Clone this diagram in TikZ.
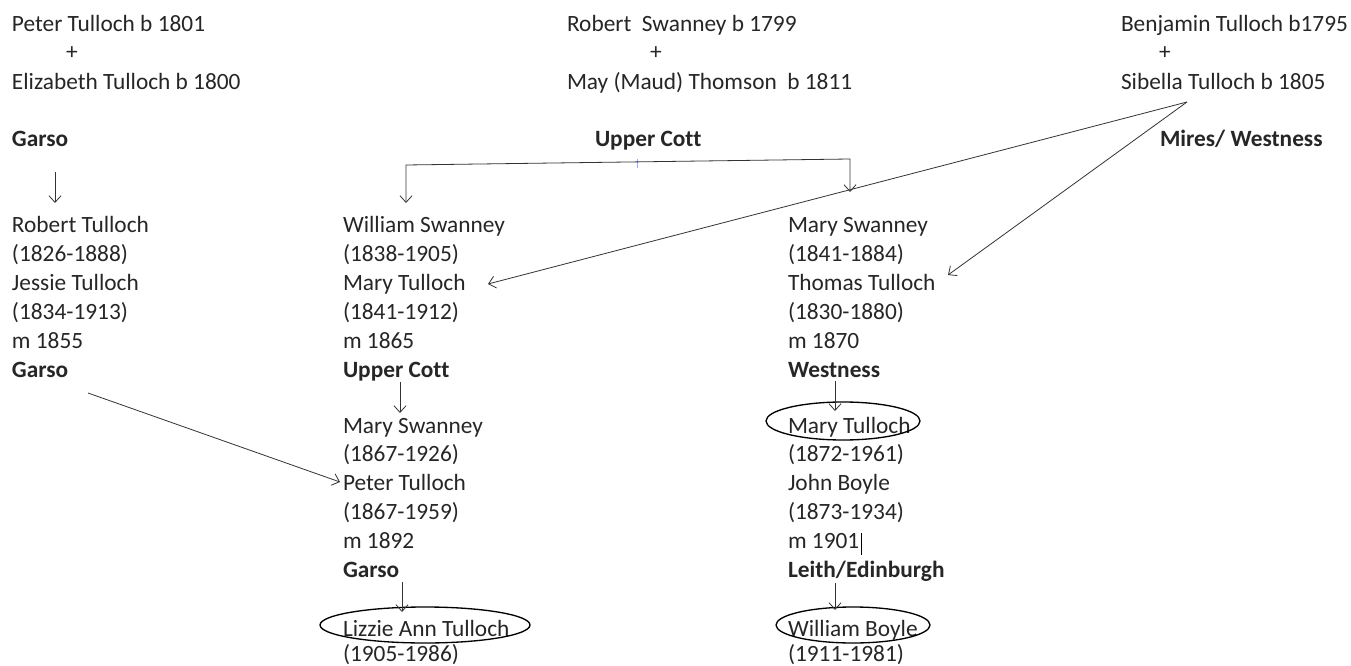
\documentclass[tikz,border=0pt]{standalone}
\usepackage{fontspec}
\setmainfont{Carlito}[Ligatures={NoCommon}]
\usetikzlibrary{arrows.meta}
\begin{document}
\begin{tikzpicture}[x=0.75pt,y=-0.75pt,
  tip/.tip={Straight Barb[length=5pt,width=9pt]},
  txt/.style={anchor=base west, inner sep=0pt, outer sep=0pt, text=black!85, font=\fontsize{17.5}{21}\selectfont},
  bold/.style={txt, font=\fontsize{17.5}{21}\selectfont\bfseries},
  conn/.style={draw=black!80, line width=0.6pt, -tip},
  ring/.style={draw=black, line width=1pt}]
\useasboundingbox (0,0) rectangle (1351,666);
\fill[white] (0,0) rectangle (1351,666);

% --- top row ---
\node[txt] (pt) at (12,32) {Peter Tulloch b 1801};
\node[txt] (plusA) at (66,60) {+};
\node[txt] (et) at (12,90) {Elizabeth Tulloch b 1800};
\node[bold] (garsoA) at (12,147) {Garso};

\node[txt] (rs) at (567,32) {Robert\ \ Swanney b 1799};
\node[txt] (plusB) at (650,60) {+};
\node[txt] (mt) at (567,90) {May (Maud) Thomson\ \ b 1811};
\node[bold] (ucA) at (595,147) {Upper Cott};

\node[txt] (bt) at (1121,32) {Benjamin Tulloch b1795};
\node[txt] (plusC) at (1159,60) {+};
\node[txt] (st) at (1121,90) {Sibella Tulloch b 1805};
\node[bold] (mw) at (1160,147) {Mires/ Westness};

% --- column 1 ---
\node[txt] (c1a) at (12,233) {Robert Tulloch};
\node[txt] (c1b) at (12,261.8) {(1826-1888)};
\node[txt] (c1c) at (12,290.6) {Jessie Tulloch};
\node[txt] (c1d) at (12,319.4) {(1834-1913)};
\node[txt] (c1e) at (12,348.2) {m 1855};
\node[bold] (c1f) at (12,377) {Garso};

% --- column 2 ---
\node[txt] (c2a) at (343,233) {William Swanney};
\node[txt] (c2b) at (343,261.8) {(1838-1905)};
\node[txt] (c2c) at (343,290.6) {Mary Tulloch};
\node[txt] (c2d) at (343,319.4) {(1841-1912)};
\node[txt] (c2e) at (343,348.2) {m 1865};
\node[bold] (c2f) at (343,377) {Upper Cott};

\node[txt] (c2g) at (343,433) {Mary Swanney};
\node[txt] (c2h) at (343,461.8) {(1867-1926)};
\node[txt] (c2i) at (343,490.6) {Peter Tulloch};
\node[txt] (c2j) at (343,519.4) {(1867-1959)};
\node[txt] (c2k) at (343,548.2) {m 1892};
\node[bold] (c2l) at (343,577) {Garso};
\node[txt] (c2m) at (343,636) {Lizzie Ann Tulloch};
\node[txt] (c2n) at (343,661) {(1905-1986)};

% --- column 3 ---
\node[txt] (c3a) at (788,233) {Mary Swanney};
\node[txt] (c3b) at (788,261.8) {(1841-1884)};
\node[txt] (c3c) at (788,290.6) {Thomas Tulloch};
\node[txt] (c3d) at (788,319.4) {(1830-1880)};
\node[txt] (c3e) at (788,348.2) {m 1870};
\node[bold] (c3f) at (788,377) {Westness};

\node[txt] (c3g) at (788,433) {Mary Tulloch};
\node[txt] (c3h) at (788,461.8) {(1872-1961)};
\node[txt] (c3i) at (788,490.6) {John Boyle};
\node[txt] (c3j) at (788,519.4) {(1873-1934)};
\node[txt] (c3k) at (788,548.2) {m 1901};
\node[bold] (c3l) at (788,577) {Leith/Edinburgh};
\node[txt] (c3m) at (788,636) {William Boyle};
\node[txt] (c3n) at (788,661) {(1911-1981)};

% cursor marks
\draw[black, line width=0.6pt] (861,533) -- (861,555);
\draw[blue!35, line width=0.6pt] (637,159) -- (637,168);

% --- ellipses ---
\draw[ring] (843,421) ellipse [x radius=57.75pt, y radius=14.25pt];
\draw[ring] (425,625) ellipse [x radius=78.75pt, y radius=13.5pt];
\draw[ring] (853,625) ellipse [x radius=57.75pt, y radius=13.5pt];

% --- connectors ---
\coordinate (a1s) at (55,172); \coordinate (a1e) at (55,203);
\draw[conn] (a1s) -- (a1e);

\coordinate (ucL) at (406,203); \coordinate (ucR) at (850,192);
\coordinate (ucLt) at (406,165); \coordinate (ucRt) at (850,159);
\draw[conn, tip-tip] (ucL) -- (ucLt) -- (ucRt) -- (ucR);

\coordinate (sib0) at (1187,102);
\coordinate (mtip) at (488,284);
\coordinate (ttip) at (948,275);
\draw[conn] (sib0) -- (mtip);
\draw[conn] (sib0) -- (ttip);

\coordinate (gs) at (88,393); \coordinate (ge) at (340,482);
\draw[conn] (gs) -- (ge);

\coordinate (b1s) at (400,382); \coordinate (b1e) at (400,413);
\draw[conn] (b1s) -- (b1e);
\coordinate (b2s) at (402,582); \coordinate (b2e) at (402,612);
\draw[conn] (b2s) -- (b2e);
\coordinate (d1s) at (835,381); \coordinate (d1e) at (835,411);
\draw[conn] (d1s) -- (d1e);
\coordinate (d2s) at (835,583); \coordinate (d2e) at (835,610);
\draw[conn] (d2s) -- (d2e);
\end{tikzpicture}
\end{document}
